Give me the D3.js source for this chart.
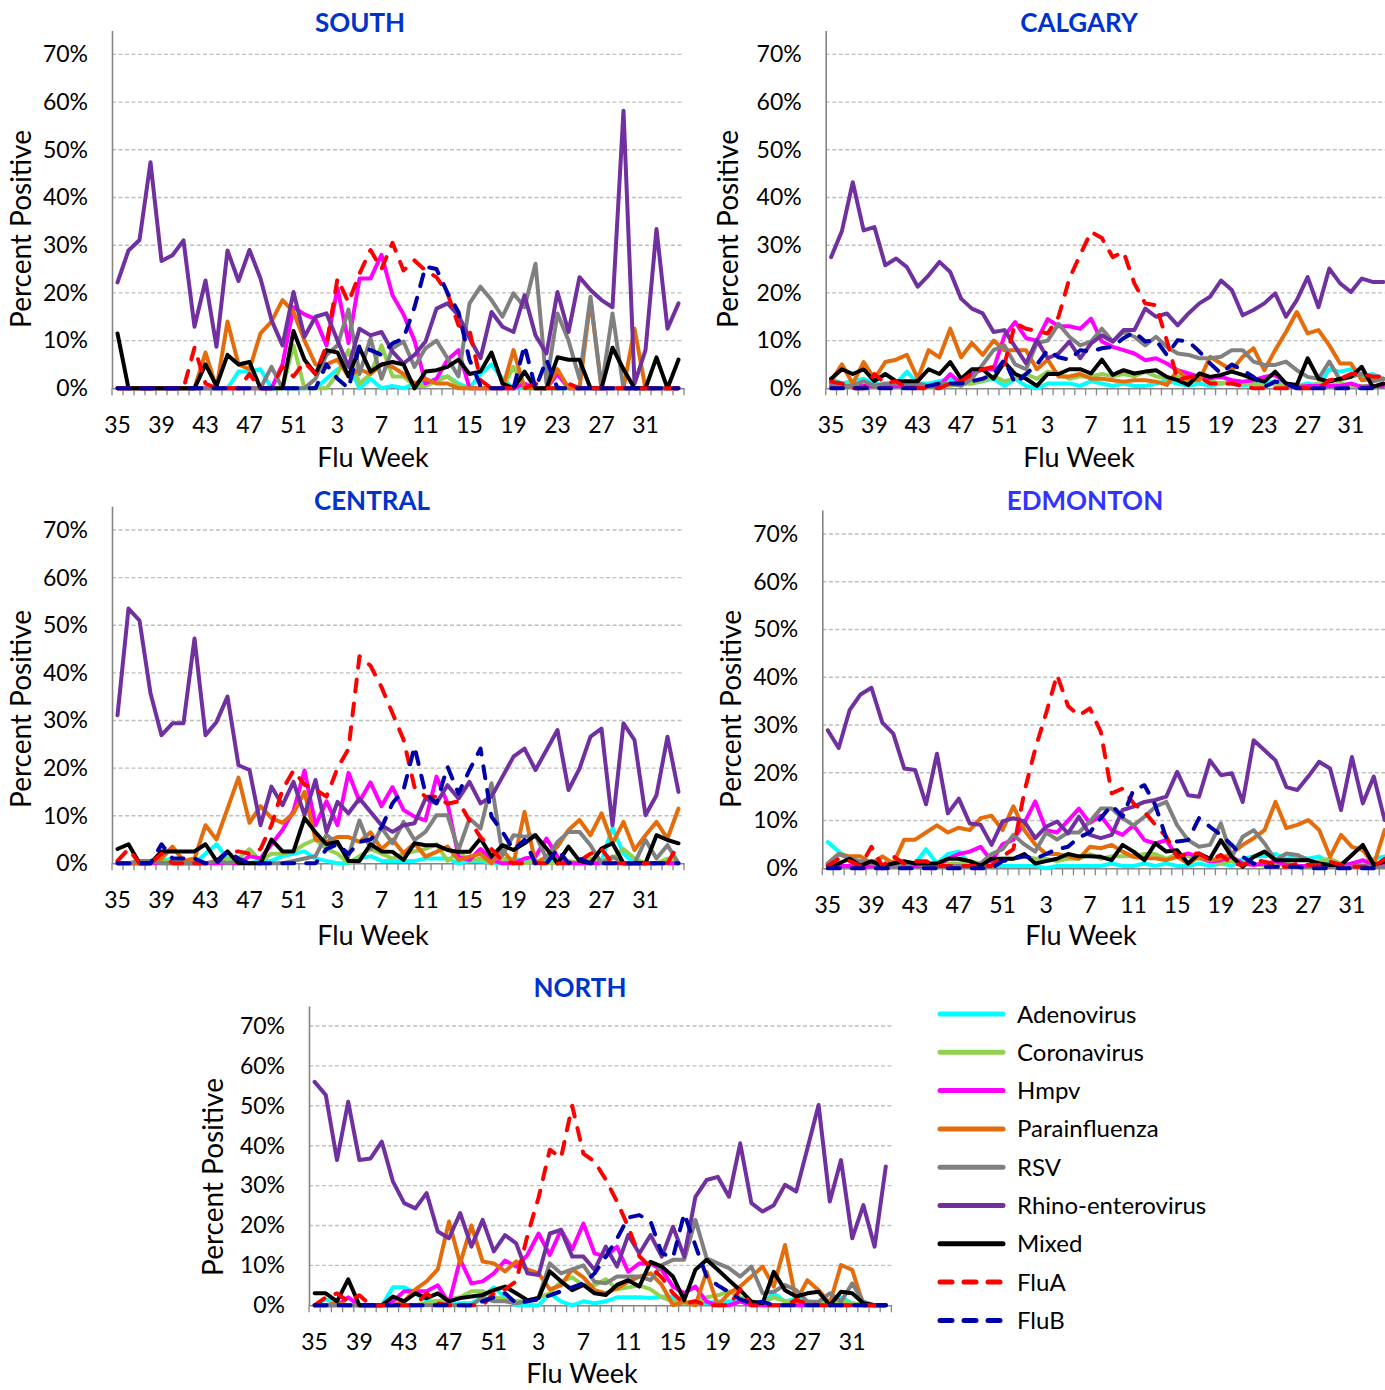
<!DOCTYPE html>
<html><head><meta charset="utf-8">
<script src="https://cdn.jsdelivr.net/npm/d3@7"></script>
<style>body{margin:0;background:#fff} svg{display:block} text{font-family:Lato,"Open Sans",sans-serif}</style>
</head><body><svg id="c" width="1385" height="1390"></svg>
<script>
const weeks = [35,36,37,38,39,40,41,42,43,44,45,46,47,48,49,50,51,52,1,2,3,4,5,6,7,8,9,10,11,12,13,14,15,16,17,18,19,20,21,22,23,24,25,26,27,28,29,30,31,32,33,34];
const tickWeeks = [35,39,43,47,51,3,7,11,15,19,23,27,31];
const yTicks = [0,10,20,30,40,50,60,70];
const seriesNames = ["Adenovirus","Coronavirus","Hmpv","Parainfluenza","RSV","Rhino-enterovirus","Mixed","FluA","FluB"];
const seriesColors = ["#00FFFF","#92D050","#FF00FF","#E46C0A","#808080","#7030A0","#000000","#FF0000","#0000A8"];
const seriesDashed = [false,false,false,false,false,false,false,true,true];
const regions = ["SOUTH","CALGARY","CENTRAL","EDMONTON","NORTH"];

const south_adenovirus = [0,0,0,0,0,0,0,0,0,0, 0,3.5,3.5,4,0,0,0,0,0,2, 4,5,0,2,0,0.5,0,1,1,2, 2.5,1,0,3,5,2,0,0,0,0, 0,0,0,0,0,0,0,0,0,0, 0,0];
const south_coronavirus = [0,0,0,0,0,0,0,0,0,0, 0,0,0,0,0,0,9,0,0,0, 3,8,1,3,9,2.5,2.5,0.5,0.5,1.5, 2.5,0.5,0,0,0,0,4.5,0,0,0, 0,0,0,0,0,0,0,0,0,0, 0,0];
const south_hmpv = [0,0,0,0,0,0,0,0,0,0, 0,0,0,0,0,5,17,15.5,14.5,9, 21,9.5,23,23,28,19.5,15.5,10,1,2, 6,8,0,0,0,0,0,1,0,0, 3,0,0,0,0,0,0,0,0,0, 0,0];
const south_parainfluenza = [0,0,0,0,0,0,0,0,7.5,0, 14,5,4,11.5,14,18.5,16,10,5,5, 6,2.5,4,3,5,4.5,3,1,2,1, 1,0,0,0,0,0,8,0,0,0, 4,0,0,18.5,0,0,0,12.5,0,0, 0,0];
const south_rsv = [0,0,0,0,0,0,0,0,0,0, 0,0,0,0,4.5,0,0,0,2,7, 9,16.5,3,10.5,2,8.4,9.8,4.5,8.4,10, 6.3,2.5,17.8,21.3,18.5,15,19.9,17,26.1,1, 15.7,10,2,19.2,0,15.7,0,0,0,0, 0,0];
const south_rhino = [22.2,28.9,31.1,47.4,26.7,27.9,31,12.9,22.6,8.7, 28.9,22.5,29,23,14.3,9,20.2,10.8,15,15.7, 10,4.5,12.5,11.1,11.8,7.7,5.2,7,9.8,16.7, 17.8,15.3,10.5,6.3,16,12.9,11.8,19.5,11.1,7.3, 20.2,11.8,23.3,20.6,18.5,17,58.2,1,8,33.4, 12.5,17.8];
const south_mixed = [11.5,0,0,0,0,0,0,0,5,0.5, 7,5,5.5,0,0,0,12,6,3,8, 7.5,2.5,8.5,3.5,5,5.5,5,0,3.5,3.8, 4.5,6,3,3.5,7.5,1,0,3.5,0,0, 6.5,6,6,0,0,8.5,4,0,0,6.5, 0,6];
const south_flua = [0,0,0,0,0,0,0,8.5,1,0, 0,0,3,0,0,4.5,2.5,5.5,3,9, 23,18,24,29,25,30.5,24.7,26.8,24.7,23.3, 19.9,13.2,12.2,1.7,0,0,0,0,1,0, 0,1,0,0,0,0,0,0,0,0, 0,0];
const south_flub = [0,0,0,0,0,0,0,0,0,0, 0,0,0,0,0,0,0,0,0,5, 2,0,9,8,7,9.4,10.5,17,25.5,25, 20,16,6,0.5,0,0,0,9,0,6, 0,0,0,0,0,0,0,0,0,0, 0,0];

const calgary_adenovirus = [2,1,1.5,2,1,0.5,1,3.5,1,1, 1.5,2,1,1,1.5,2,0.5,2,0.5,0, 1,1,1,0.5,1.5,1,0.5,1,0.5,0.5, 1,1.5,1,0.5,1,0.5,1,1,0.5,1, 1,1.5,1,0.5,1,0.5,4,3.5,4,2.5, 3,2];
const calgary_coronavirus = [0.5,0.5,1,0.5,0.5,0.5,0.5,1,0.5,0.5, 1,0.5,1,1,1.5,2.5,1.5,2,3,2, 3.5,3,2,2.5,2.5,3,2.5,3,2.5,3.5, 2.5,2,2.5,1.5,2,1.5,1,1.5,1,1, 0.5,1,0.5,0.5,0.5,1,0.5,1,0.5,0.5, 0.5,0.5];
const calgary_hmpv = [0.5,0.5,0.5,0.5,0.5,0.5,0.5,0.5,0.5,0.5, 0.5,3,1,3,4,4,11,13.9,10.5,10, 14.5,13,13,12.5,14.6,9.8,8.7,8,7.3,5.9, 6.3,5.2,3.8,3.1,2.4,2.1,2.4,1.7,1.4,1.7, 2.4,2.8,1,0.3,0.5,0.5,0.5,0.5,1,0.3, 0.5,0.5];
const calgary_parainfluenza = [1.5,5,1,5.5,2,5.5,6,7,2,8, 6.5,12.5,6.5,9.5,7,10,8,8,8,4, 6,2.5,2.5,3,2,2,1.7,1.4,1.7,1.7, 1.4,0.7,3.8,1.7,1.7,6.6,5.2,3.8,6.6,8.4, 3.8,8,11.8,16,11.5,12.2,9,5.2,5.2,1.7, 2,2];
const calgary_rsv = [1,0.5,0.5,1.5,0.5,1,1,1,1,0.5, 1,1,0.5,2,5,8,9,5,4,9.5, 10,13.5,10.8,9,9.8,12.5,9.8,11.8,10.8,9, 10.8,8.7,7.3,7,6.3,6.3,6.6,8,8,5.6, 4.9,4.9,5.6,3.8,2.4,2,5.6,1.7,2.4,3.1, 1.4,2];
const calgary_rhino = [27.5,33,43.2,33.1,33.8,25.8,27.2,25.4,21.3,23.7, 26.5,24.4,18.8,16.7,15.7,11.8,12.2,8.7,5.2,10.1, 6.3,7.3,9.8,6.3,9.4,11.1,9.8,12.2,12.2,16.7, 15,15.7,13.2,15.7,17.8,19.2,22.6,20.6,15.3,16.4, 17.8,19.9,15,18.5,23.3,17,25.1,22,20.2,23, 22.3,22.3];
const calgary_mixed = [2,4,3,4,1.5,3,1.5,1.5,1.5,4, 3,5.5,2,4,4,2,5.5,3,2,0.5, 3,3,4,4,3.1,6,2.8,3.8,3.1,3.5, 3.8,2.4,1.7,0.7,3.1,2.4,2.8,3.5,2.8,2, 1.4,3.5,1,0.7,6.3,2,1.4,2,2.4,4.5, 0.3,1];
const calgary_flua = [1.4,1,0,0,3,1,1.5,0,0,0, 0,1,1.5,3,4,4.5,5,13.6,12.5,12, 11.5,15,23,28,32.8,31.5,27.5,28.6,22,17.8, 17.4,10,1.7,2.4,2.4,1,1,1,0.5,0, 0,0,0,0,0,0,1.7,2,3,3, 2.5,2.5];
const calgary_flub = [0,0,0,0,0,0,0,0,0,0.5, 1,1,1,1.5,2,3,6,1,3,5, 8,6.5,6,8,7.7,8.4,8.7,10.5,11.8,9.8, 10.1,7,10.1,9.8,7.7,5.2,3.1,5,3.8,2.4, 0.3,1.4,1,0,0,0,0,0,0,0, 0,0];

const central_adenovirus = [0,0,0,0,0.5,1,0,0,2,4, 1,0,0,0.5,0.5,1.5,2,2.5,1,0.5, 0,0,1,1.5,0.5,0.5,0.5,0.5,1,1, 1,0,0.5,0.5,0,0,1,0.5,0,0.5, 0,0,0,0,0.5,7.5,2,0,0,0, 0,0];
const central_coronavirus = [0,0,0,0,0.5,0.5,0,0,0,0, 1,1,3,0.5,2,2,2.5,4,5,3, 2,0,1.5,3,2,1,2,2.5,3,4, 0.5,2.5,0.5,1,0,1,0.5,0,0.5,0, 0,0.5,0,1,0.5,1,3,1,0,0, 1,0];
const central_hmpv = [0,0,0,0,0,0,0,0,0,0, 0,0,1.5,1,4,7,11,19.5,8,13, 8,19,13,17,12,16,11.2,9.8,9,18.2, 12.6,1.4,0.7,3,0.7,0,0,1,1.4,5.2, 1.4,0,0,0,0,0,0,0,0,0, 0,0];
const central_parainfluenza = [0,0,0,0,1,3.5,0.5,1,8,5, 11.5,18,8.5,12,9.5,8.5,10.5,15,5,4.5, 5.5,5.5,4.5,6.5,3,5,2.1,4.2,1.4,2.4, 3.5,0.7,1.4,2,0,2.8,0,10.8,0,1.4, 3.5,7,9.1,5.9,10.5,4.2,8.7,2.8,5.9,8.7, 5.2,11.5];
const central_rsv = [0,0,0.5,0.5,0,0,0,0,0,0.5, 0,0.5,0,0,0,0,0.5,1,1.5,6, 4,1.5,9,3,7.5,4.2,8.7,4.9,6.6,10.1, 10.1,2.8,9.4,7.3,16.8,1.7,5.9,5.6,5.9,1, 4.5,6.6,6.6,3.8,0,1.4,0,0,4.9,1, 3.8,0];
const central_rhino = [31.1,53.5,51,35.7,26.9,29.4,29.4,47.2,26.9,29.7, 35,20.6,19.6,8,16.1,12.2,17.1,10.1,17.5,6.6, 12.9,10.5,13.6,10.8,8,6.6,8,8.4,13.6,12.6, 16.4,13.6,17.1,12.6,14,18.2,22.4,24.1,19.6,23.8, 28,15.4,19.9,26.6,28.3,8,29.4,25.9,10.1,14.3, 26.6,15];
const central_mixed = [3,4,0,0,2.5,2.5,2.5,2.5,4,0.5, 2.5,0,0,0,5,2.5,2.5,9.5,6.5,4, 4.5,0.5,0.5,4,2.5,2.4,0.7,4.2,3.8,3.8, 2.8,2.4,2.4,5.2,1.4,3.8,2.8,4.2,5.9,3.1, 0,3.5,0.5,0,3.1,4.2,0,0,0,5.9, 4.9,4.2];
const central_flua = [0.5,3,0,0,2,0,0,0,0,0, 2.5,2.5,2,3,8,15.5,19.5,16.5,15.5,14, 20,24,43.5,41.5,37,31.5,26,16,14,14, 12.5,13,9,5.5,3,0.5,0,0,0,0, 0,0,0.5,2,3,0,0,0,0,0, 0,4];
const central_flub = [0,0,0,0,4,1,1,1,0,0, 2.5,1,0,0,0,0,0,0,0,3, 4,2,4.5,5,7.5,12.6,15.4,24.5,14.7,12.6, 20.3,14.7,19.6,24.1,9.8,6.6,2.8,4.9,0,0, 3,0,1,0,0,0,0,0,0,0, 0,0];

const edmonton_adenovirus = [5.5,3.5,2,1,0.5,0,0.5,0.5,1,4, 1,3,3.5,1,0.5,0.5,0.5,0.5,0.5,0.5, 0,0.5,0.5,0.5,0.5,0.5,1,0.5,0.5,1, 0.5,1,0.5,0.5,1,0.5,1,0.5,2,2.5, 2.5,3,2,2.5,2,2.5,1,0.5,1,1, 2,2.5];
const edmonton_coronavirus = [0,0.5,0.5,0.5,0.5,0,0.5,0.5,0.5,0.5, 1,1,1,1.5,1,1,2,2,2.5,2, 2,1.5,2,2,3,2,2.5,2.5,2.5,3, 3,2,3,2.5,2,1.5,1,1.5,1,1, 0.5,0.5,1,0.5,0.5,1.5,2,1,0.5,0.5, 0.5,0.5];
const edmonton_hmpv = [0.5,0.5,0.5,0,0.5,0,0.5,0.5,0.5,0.5, 0.5,2,3,3.5,4.5,1.5,5,6,9.5,14, 8,7.5,10,12.5,9.5,11,8,7,9,5.9, 5.2,5.9,2.4,3.1,2.4,1.4,1.7,2.4,1,0.7, 1,1.4,0.7,0.5,0.5,0.5,0.5,0.5,1,1.7, 0.7,1];
const edmonton_parainfluenza = [1,3,2.5,2.5,1,2.5,1,6,6,7.5, 9,7.5,8.5,8,10.5,11,8,13,8,5, 3,3,2.5,2,4.5,4.2,4.9,3.5,2.4,2.1, 2.1,1.7,2.4,1,2.4,1.7,2.1,3.1,4.9,6.3, 8,13.9,8.4,9.1,10.1,8,2.4,7,4.5,3.8, 0.7,8];
const edmonton_rsv = [1,3,2,1.5,1,0.5,0.5,0.5,1,0.5, 0.5,0.5,0.5,0.5,1,3,4,7,5,3.5, 7.5,6,7.5,7.5,9.8,12.5,12.5,10.5,9,10.8, 12.9,13.9,9,5.9,4.5,4.9,9.4,2.4,6.6,8, 5.2,1.7,3.1,2.8,1.7,1,0.5,0.3,0.3,0.5, 0.3,0.3];
const edmonton_rhino = [28.9,25.2,33.1,36.4,37.8,30.5,28.2,20.9,20.6,13.4, 24,11.5,14.6,9.4,9.1,4.9,9.8,10.5,9.8,6.3, 8.7,9.8,7.3,10.8,7,6.3,7,12.2,12.9,13.9, 14.3,15,20.2,15.3,15,22.6,19.5,19.9,13.9,26.8, 24.7,22.6,17,16.4,19.2,22.3,20.9,12.2,23.3,13.6, 19.2,10.1];
const edmonton_mixed = [0.5,1,2,0.5,1.5,0.5,1,1.5,1,1, 1,2,2,1.5,0.5,2,2,2,3,1, 1.5,2,3,2.5,2.5,2.4,1.7,4.9,3.5,1.7, 5.2,3.5,3.8,1,3.1,2,5.9,2.4,0.3,2.4, 3.5,1.7,1.7,1.7,1.7,1,0.7,0.7,2.8,4.9, 0.7,1.4];
const edmonton_flua = [0.5,2,1.5,0.5,4.5,0.5,2.5,1,1.5,1.5, 0.5,0.5,0.5,0.5,0.5,0.5,2.5,4,16,25, 32.5,40.5,34,32,33.5,28.6,15.7,16.7,13.6,11.8, 9.1,6.6,2.4,3.1,3.1,1.7,2.8,1,0.7,1.7, 1.4,0.7,0.3,1,0.7,0.7,1.4,0.7,0.3,0.3, 0.3,2];
const edmonton_flub = [0,0,0,0,0,0,0,0,0,0, 0,0,0,0,0,0,1.5,2,2.5,2, 3,4,4.5,6.5,7.5,10.5,13.2,10.8,16.4,17.4, 13.2,6.3,5.6,5.9,10.5,8.7,7,4.9,2.4,1, 0.3,0.3,0.3,0.3,0,0,0,0,0,0, 0,0];

const north_adenovirus = [0,1.5,0.5,0,0,0,0,4.5,4.5,3, 1,1,0,0.5,0.5,2,4.5,2,0,0, 0,3,1,0,1,0.5,1,2,2,2, 1.8,2.2,2,0.5,0.5,0.5,1,1,1,0.5, 0.5,3,1,1.5,1,0.5,1,2,0.5,0, 0,0];
const north_coronavirus = [0,0,0,0,0,0,0,0,0,0, 0.5,1,1.5,2,3.5,3.5,2,1.5,1,1, 2,3,6,7,5,5,6.5,4,4.5,5, 4,2,1,0.5,1,2,2.5,3.5,2,1, 0.5,2,1,0.5,0.5,0.5,0.5,1,0.5,0, 0,0];
const north_hmpv = [0,0,0,2,0,0,0,1,3.5,3.5, 3.5,5,0.5,11.5,5.5,6,8,11.2,9.7,12.6, 18,12.6,18.9,14,20.5,13,12.2,14.7,8.4,10.5, 10.5,8.9,4.7,3,4.7,0.9,0,0,1,0, 0,0,0,0,0,0,0,0,0,0, 0,0];
const north_parainfluenza = [0,0,0.5,0,0,0,0,0,1,4, 6,9,21,10.5,20,11,10.5,8.5,11,9, 8,4,5,9,7,3.8,3,4.3,5.9,7.2, 8,5.1,0,0.9,0,8.4,0,3,4.7,7.2, 9.7,4.7,15.1,1,6.3,3.8,0.5,10.1,8.9,0, 0,0];
const north_rsv = [0,0,0,0,0,0,0,0,0,0, 0,0,0,0,0,2,1,1,0.5,1, 2,10.5,8,9,10,5.9,5.5,7.2,7.2,7.2, 6.3,10.1,11.4,11.4,21.4,11.8,10.5,9.3,7.2,9.7, 3,3.4,5.1,3.8,0.9,0.9,3,0.9,5.5,0.9, 0,0];
const north_rhino = [56,52.7,36.4,51,36.4,36.8,41,31,25.6,24.3, 28.1,18.5,16.8,23.1,14.7,21.4,13.5,17.6,15.5,8, 7.6,18,18.9,12.2,12.2,8.9,14.7,9.7,17.6,13, 17.6,12.2,19.7,12.2,27.2,31.4,32.2,27.2,40.6,25.6, 23.5,25.1,30.2,28.5,39.3,50.2,26,36.4,16.8,25.1, 14.7,34.8];
const north_mixed = [3,3,1,6.5,0,0,0,2.2,1,3, 1.8,3,1,1.8,2.2,2.6,3.8,4.7,3,1.3, 1.8,8.5,6,3.8,5.1,3,2.6,5.1,6.3,4.7, 10.9,9.7,7.2,1.3,8.9,11.4,8.9,6.3,3.8,0.9, 0.5,8.4,3.8,2.2,3,3.4,0,3.4,3,0.5, 0,0];
const north_flua = [0,2,3,1,2.5,0,0,0,0,0, 3,0.5,0,0,0,0,3,4,6,17.5, 27,39,37,50,38,36,31.5,26,19.7,12.3, 9.5,7,3,0.5,1,0,0,0,4,0, 0,0,0,1.3,0.5,0,0,0,0,0, 0,0];
const north_flub = [0,0,0,0,0,0,0,0,0,0, 0,0,0,0,0,1,2,3,0.5,1, 1.5,2.5,3.5,4.5,5.5,8,12.2,16.7,22,22.6, 21,13,12,23,15,7.2,5,3.3,1.5,0.5, 0.9,0,0,0,0,0,0,0,0,0, 0,0];

const regionSeries = {
  SOUTH: [south_adenovirus,south_coronavirus,south_hmpv,south_parainfluenza,south_rsv,south_rhino,south_mixed,south_flua,south_flub],
  CALGARY: [calgary_adenovirus,calgary_coronavirus,calgary_hmpv,calgary_parainfluenza,calgary_rsv,calgary_rhino,calgary_mixed,calgary_flua,calgary_flub],
  CENTRAL: [central_adenovirus,central_coronavirus,central_hmpv,central_parainfluenza,central_rsv,central_rhino,central_mixed,central_flua,central_flub],
  EDMONTON: [edmonton_adenovirus,edmonton_coronavirus,edmonton_hmpv,edmonton_parainfluenza,edmonton_rsv,edmonton_rhino,edmonton_mixed,edmonton_flua,edmonton_flub],
  NORTH: [north_adenovirus,north_coronavirus,north_hmpv,north_parainfluenza,north_rsv,north_rhino,north_mixed,north_flua,north_flub]
};

// layout (positions only)
const layout = {
  SOUTH:   {L:112,   step:11,    y0:388.3,  k:4.77,  title:[360,32],   tc:"#0033CC", ylab:[31,229],   xlab:[373,467]},
  CALGARY: {L:825.7, step:10.83, y0:388.3,  k:4.77,  title:[1079,32],  tc:"#0033CC", ylab:[738,229],  xlab:[1079,467]},
  CENTRAL: {L:112,   step:11,    y0:863.3,  k:4.761, title:[372,510],  tc:"#0033CC", ylab:[31,709],   xlab:[373,945]},
  EDMONTON:{L:822.3, step:10.92, y0:868.3,  k:4.776, title:[1085,510], tc:"#3333FF", ylab:[741,709],  xlab:[1081,945]},
  NORTH:   {L:309,   step:11.2,  y0:1305.3, k:3.99,  title:[580,997],  tc:"#0033CC", ylab:[223,1177], xlab:[582,1383]}
};

const svg = d3.select("#c");

regions.forEach(name => {
  const p = layout[name];
  const R = p.L + 52*p.step;
  const x = d3.scaleBand().domain(weeks).range([p.L, R]).padding(0);
  const cx = w => x(w) + x.bandwidth()/2;
  const y = d3.scaleLinear().domain([0,75]).range([p.y0, p.y0 - 75*p.k]);
  const g = svg.append("g");

  g.append("g").selectAll("line").data(yTicks.filter(v=>v>0)).join("line")
    .attr("x1", p.L).attr("x2", R).attr("y1", d=>y(d)).attr("y2", d=>y(d))
    .attr("stroke","#BFBFBF").attr("stroke-width",1.4).attr("stroke-dasharray","4,2.5");

  const ya = g.append("g").attr("transform",`translate(${p.L},0)`)
    .call(d3.axisLeft(y).tickValues(yTicks).tickFormat(d=>d+"%").tickSize(0).tickSizeOuter(0).tickPadding(24));
  ya.select(".domain").attr("stroke","#868686").attr("stroke-width",1.6);
  ya.selectAll("text").attr("font-size",23).attr("fill","#000").style("font-family","Lato");

  const xa = g.append("g").attr("transform",`translate(0,${p.y0})`)
    .call(d3.axisBottom(x).tickValues(tickWeeks).tickSize(0).tickSizeOuter(0).tickPadding(28.5));
  xa.select(".domain").attr("stroke","#868686").attr("stroke-width",1.6);
  xa.selectAll("text").attr("font-size",23).attr("fill","#000").style("font-family","Lato");
  const bounds = weeks.map(w => x(w)).concat([R]);
  g.append("g").selectAll("line").data(bounds).join("line")
    .attr("x1",d=>d).attr("x2",d=>d).attr("y1",p.y0).attr("y2",p.y0+7)
    .attr("stroke","#868686").attr("stroke-width",1.3);

  const line = d3.line().x((d,i)=>cx(weeks[i])).y(d=>y(d));
  regionSeries[name].forEach((vals, si) => {
    g.append("path").datum(vals).attr("d", line)
      .attr("fill","none").attr("stroke", seriesColors[si]).attr("stroke-width",4)
      .attr("stroke-linejoin","round").attr("stroke-linecap","round")
      .attr("stroke-dasharray", seriesDashed[si] ? "12,12" : null);
  });

  g.append("text").attr("x",p.title[0]).attr("y",p.title[1]).attr("text-anchor","middle")
    .attr("font-size",26).attr("font-weight","bold").attr("fill",p.tc).text(name);
  g.append("text").attr("transform",`translate(${p.ylab[0]},${p.ylab[1]}) rotate(-90)`)
    .attr("text-anchor","middle").attr("font-size",28).attr("fill","#000").text("Percent Positive");
  g.append("text").attr("x",p.xlab[0]).attr("y",p.xlab[1]).attr("text-anchor","middle")
    .attr("font-size",27).attr("fill","#000").text("Flu Week");
});

const lg = svg.append("g");
seriesNames.forEach((n, i) => {
  const yy = 1014 + 38.3*i;
  lg.append("line").attr("x1",940).attr("x2",1003).attr("y1",yy).attr("y2",yy)
    .attr("stroke",seriesColors[i]).attr("stroke-width",5).attr("stroke-linecap","round")
    .attr("stroke-dasharray", seriesDashed[i] ? "12,12" : null);
  lg.append("text").attr("x",1017).attr("y",yy+8.5).attr("font-size",24).attr("fill","#000").text(n);
});
</script>
</body></html>
